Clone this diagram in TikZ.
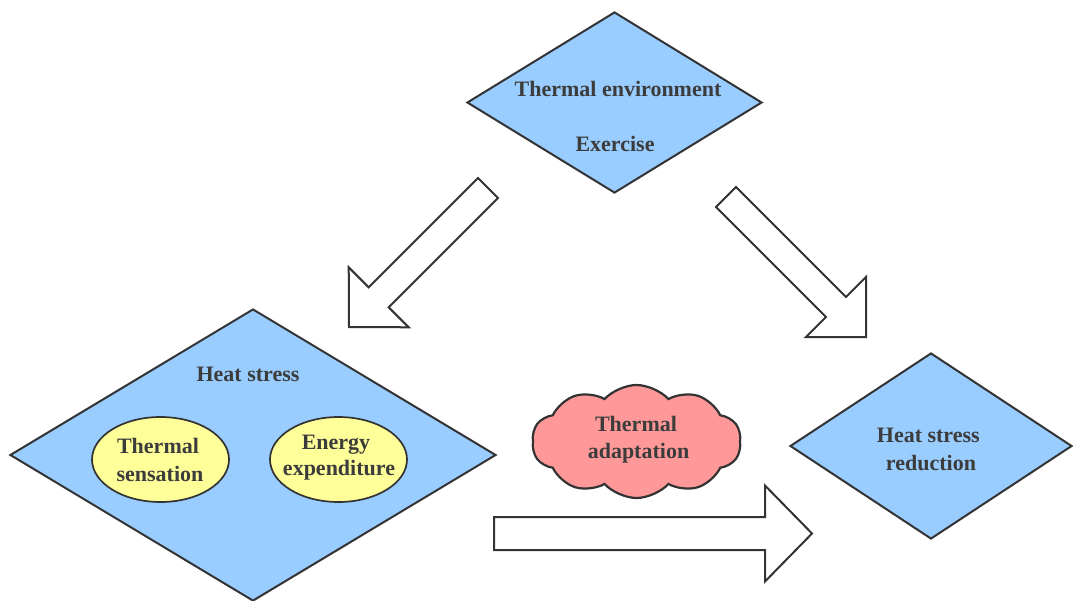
\documentclass[tikz,border=0pt]{standalone}
\usepackage{fontspec}
\setmainfont{Liberation Serif}
\usetikzlibrary{shapes.geometric,shapes.symbols,calc}

\definecolor{boxblue}{HTML}{99CCFF}
\definecolor{ovalyellow}{HTML}{FFFF99}
\definecolor{cloudpink}{HTML}{FF9999}
\definecolor{edgegray}{HTML}{333333}
\definecolor{textgray}{HTML}{3C3C3C}

% hollow block arrow: #1 tail, #2 tip, #3 shaft half width, #4 head half width, #5 head length
\newcommand\blockarrow[5]{%
  \draw[hollowarrow]
    ($(#1)!#3!90:(#2)$) --
    ($($(#2)!#5!(#1)$)!#3!90:(#2)$) --
    ($($(#2)!#5!(#1)$)!#4!90:(#2)$) --
    (#2) --
    ($($(#2)!#5!(#1)$)!#4!-90:(#2)$) --
    ($($(#2)!#5!(#1)$)!#3!-90:(#2)$) --
    ($(#1)!#3!-90:(#2)$) -- cycle;}

\begin{document}
\begin{tikzpicture}[x=1pt,y=-1pt,
  every node/.style={font=\fontsize{22}{27}\selectfont\bfseries, text=textgray},
  diam/.style={diamond, draw=edgegray, line width=2pt, fill=boxblue, inner sep=0pt},
  oval/.style={ellipse, draw=edgegray, line width=1.7pt, fill=ovalyellow, inner sep=0pt},
  puff/.style={cloud, cloud puffs=10, cloud puff arc=95, aspect=1.85,
    draw=edgegray, line width=2.2pt, fill=cloudpink, inner sep=0pt},
  lbl/.style={anchor=base, inner sep=0pt},
  hollowarrow/.style={draw=edgegray, line width=2pt, fill=white, line join=miter}
]
\useasboundingbox (0,0) rectangle (1073,600);
\clip (0,0) rectangle (1073,600);

% shapes
\node[diam, minimum width=295pt, minimum height=181pt] (env) at (614.5,102.5) {};
\node[diam, minimum width=486pt, minimum height=292pt] (stress) at (253,455) {};
\node[diam, minimum width=282pt, minimum height=186pt] (reduce) at (931,446) {};
\node[oval, minimum width=137pt, minimum height=85pt] (sens) at (160.5,459.5) {};
\node[oval, minimum width=137pt, minimum height=85pt] (energy) at (338.5,459.5) {};
\node[puff, minimum width=209pt, minimum height=113pt] (adapt) at (636.5,441.5) {};

% labels
\node[lbl] (t-env) at (618,96.7) {Thermal environment};
\node[lbl] (t-ex) at (615,151.7) {Exercise};
\node[lbl] (t-hs) at (248,381.7) {Heat stress};
\node[lbl] (t-sens1) at (158,453.3) {Thermal};
\node[lbl] (t-sens2) at (160,481) {sensation};
\node[lbl] (t-en1) at (336,449) {Energy};
\node[lbl] (t-en2) at (339,475.7) {expenditure};
\node[lbl] (t-ad1) at (636,431.3) {Thermal};
\node[lbl] (t-ad2) at (638.5,458) {adaptation};
\node[lbl] (t-red1) at (928.3,442.7) {Heat stress};
\node[lbl] (t-red2) at (931,470) {reduction};

% arrow ends
\coordinate (la-s) at (488,188);
\coordinate (la-e) at (349,327);
\coordinate (ra-s) at (726,197);
\coordinate (ra-e) at (866,337);
\coordinate (ba-s) at (494,533.5);
\coordinate (ba-e) at (812,533.5);

\blockarrow{la-s}{la-e}{14.1pt}{42.4pt}{42pt}
\blockarrow{ra-s}{ra-e}{14.1pt}{42.4pt}{42.4pt}
\blockarrow{ba-s}{ba-e}{16.5pt}{48pt}{47pt}
\end{tikzpicture}
\end{document}
